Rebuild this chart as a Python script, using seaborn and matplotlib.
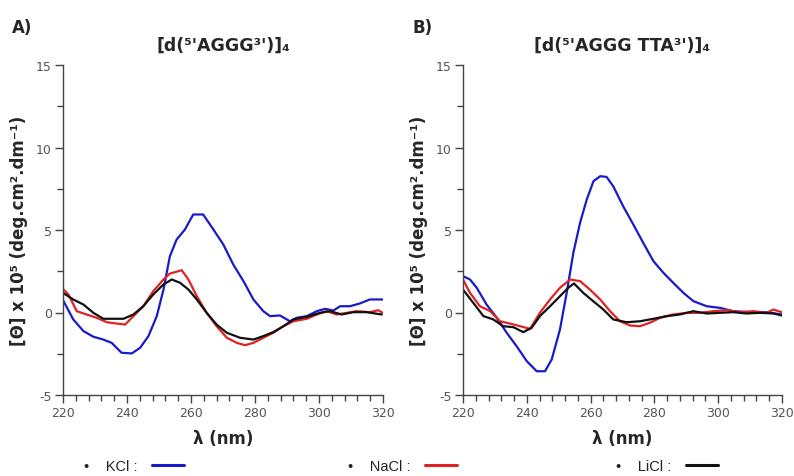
import matplotlib
matplotlib.use("Agg")
import matplotlib.pyplot as plt
from matplotlib.lines import Line2D
from matplotlib.ticker import MultipleLocator
import seaborn as sns
import pandas as pd

# ---------------- data ----------------
# Panel A: [d(5'AGGG3')]4
a_kcl_x = [220, 223.2, 226.4, 229.5, 232.6, 235.2, 238.3, 241.5, 244.1, 246.7, 249.3, 251.4, 253.4,
           255.5, 258.1, 260.7, 263.8, 267, 270.1, 273.2, 276.4, 279.5, 282.6, 284.7, 287.8, 290.9,
           293, 296.2, 299.3, 301.9, 304.5, 306.6, 309.7, 312.8, 315.9, 319.9]
a_kcl_y = [0.75, -0.42, -1.13, -1.47, -1.64, -1.84, -2.44, -2.48, -2.14, -1.43, -0.22, 1.39, 3.41,
           4.42, 5.03, 5.94, 5.94, 5.03, 4.12, 2.91, 1.90, 0.79, 0.08, -0.22, -0.18, -0.53,
           -0.32, -0.22, 0.08, 0.22, 0.12, 0.38, 0.38, 0.55, 0.79, 0.79]

a_nacl_x = [220, 221.7, 224.3, 227.4, 230.5, 233.7, 236.8, 239.4, 242, 245.1, 248.2, 251.4, 253.4,
            257.1, 259.2, 261.8, 264.9, 268, 271.2, 274.3, 276.9, 279.5, 282.6, 285.7, 288.9, 292,
            296.2, 299.3, 302.4, 305.5, 308.7, 311.8, 315.9, 318.5, 319.9]
a_nacl_y = [1.43, 1.09, 0.08, -0.12, -0.32, -0.59, -0.67, -0.73, -0.22, 0.38, 1.29, 2.0, 2.36,
            2.56, 2.0, 0.99, -0.02, -0.83, -1.53, -1.84, -1.98, -1.84, -1.53, -1.23, -0.83, -0.53,
            -0.38, -0.12, 0.08, -0.12, -0.02, 0.08, 0.02, 0.14, -0.02]

a_licl_x = [220, 223.2, 226.4, 229.5, 232.6, 235.7, 238.9, 242, 245.1, 248.2, 251.4, 254, 256.6,
            259.2, 261.8, 264.9, 268, 271.2, 275.3, 279.5, 282.6, 285.7, 288.9, 292, 296.2, 300.3,
            303.4, 307.1, 310.7, 314.9, 319.6]
a_licl_y = [1.19, 0.79, 0.48, -0.02, -0.38, -0.38, -0.38, -0.12, 0.38, 1.09, 1.70, 2.0, 1.80,
            1.39, 0.79, -0.02, -0.73, -1.23, -1.53, -1.64, -1.43, -1.19, -0.83, -0.42, -0.26, -0.02,
            0.08, -0.12, 0.02, 0.02, -0.12]

# Panel B: [d(5'AGGG TTA3')]4
b_kcl_x = [220, 222.2, 224.3, 227.4, 230.6, 233.7, 236.8, 240, 243.1, 245.7, 247.8, 250.4, 252.5,
           254.6, 256.7, 258.8, 260.9, 263, 265, 267.1, 270.2, 273.4, 276.5, 279.7, 282.8, 285.9,
           289.1, 292.2, 296.4, 300.6, 304.7, 310, 315.2, 319.9]
b_kcl_y = [2.2, 2.0, 1.5, 0.48, -0.32, -1.23, -2.04, -2.95, -3.56, -3.56, -2.85, -1.03, 1.19,
           3.62, 5.44, 6.85, 7.96, 8.26, 8.22, 7.65, 6.44, 5.33, 4.22, 3.11, 2.41, 1.80,
           1.19, 0.69, 0.38, 0.28, 0.08, 0.02, 0.02, -0.12]

b_nacl_x = [220, 222.2, 225.3, 228.5, 231.6, 234.7, 237.9, 241, 244.1, 247.3, 250.4, 253.6, 256.7,
            259.8, 263, 266.1, 269.2, 272.4, 275.5, 278.6, 281.8, 285.9, 290.1, 294.3, 298.5, 302.7,
            306.8, 311, 315.2, 317.3, 319.9]
b_nacl_y = [2.0, 1.19, 0.38, 0.08, -0.53, -0.67, -0.83, -0.99, -0.02, 0.79, 1.50, 2.0, 1.90,
            1.39, 0.79, 0.08, -0.53, -0.79, -0.83, -0.62, -0.32, -0.12, -0.02, -0.02, 0.08, 0.14,
            0.02, 0.08, -0.02, 0.18, 0.02]

b_licl_x = [220, 223.2, 226.4, 229.5, 232.6, 235.8, 238.9, 241.5, 244.1, 247.3, 250.4, 253, 254.8,
            257.7, 260.8, 264, 267.1, 271.3, 275.5, 279.7, 283.9, 288, 292.2, 296.4, 300.6, 304.7,
            308.9, 313.1, 317.3, 319.9]
b_licl_y = [1.39, 0.59, -0.22, -0.42, -0.83, -0.89, -1.19, -0.93, -0.22, 0.38, 0.99, 1.50, 1.76,
            1.19, 0.69, 0.18, -0.42, -0.59, -0.53, -0.38, -0.22, -0.12, 0.08, -0.06, -0.02, 0.02,
            -0.06, -0.02, -0.06, -0.18]

salts = ["KCl", "NaCl", "LiCl"]
panel_titles = ["[d(⁵'AGGG³')]₄", "[d(⁵'AGGG TTA³')]₄"]
panel_letters = ["A)", "B)"]
x_ticks = [220, 240, 260, 280, 300, 320]
y_ticks = [-5, 0, 5, 10, 15]

palette = {"KCl": "#1a1acc", "NaCl": "#e02222", "LiCl": "#111111"}


def build(series):
    frames = []
    for salt, (xs, ys) in zip(salts, series):
        frames.append(pd.DataFrame({"wl": xs, "val": ys, "salt": salt}))
    return pd.concat(frames, ignore_index=True)


df_a = build([(a_kcl_x, a_kcl_y), (a_nacl_x, a_nacl_y), (a_licl_x, a_licl_y)])
df_b = build([(b_kcl_x, b_kcl_y), (b_nacl_x, b_nacl_y), (b_licl_x, b_licl_y)])

# ---------------- figure ----------------
sns.set_theme(style="ticks")
plt.rcParams["font.family"] = ["DejaVu Sans"]
plt.rcParams["axes.unicode_minus"] = False

W, H = 794, 477
fig = plt.figure(figsize=(W / 100, H / 100), dpi=100)
fig.patch.set_facecolor("white")

ax_pos = [(63, 66, 383, 396), (463, 66, 782, 396)]
label_x = [12, 413]

for i, (df, (l, t, r, b)) in enumerate(zip([df_a, df_b], ax_pos)):
    ax = fig.add_axes([l / W, 1 - b / H, (r - l) / W, (b - t) / H])
    sns.lineplot(data=df, x="wl", y="val", hue="salt", palette=palette,
                 hue_order=salts, sort=False, estimator=None, linewidth=1.6,
                 legend=False, ax=ax)
    ax.set_xlim(220, 320)
    ax.set_ylim(-5, 15)
    ax.set_xticks(x_ticks)
    ax.set_yticks(y_ticks)
    ax.xaxis.set_minor_locator(MultipleLocator(4))
    ax.yaxis.set_minor_locator(MultipleLocator(2.5))
    ax.tick_params(which="major", direction="out", length=6, width=1, colors="#444444",
                   labelsize=9, labelcolor="#555555", pad=2)
    ax.tick_params(which="minor", direction="out", length=4, width=1, colors="#444444")
    sns.despine(ax=ax)
    for s in ["left", "bottom"]:
        ax.spines[s].set_color("#444444")
        ax.spines[s].set_linewidth(1)
    ax.set_xlabel("λ (nm)", fontsize=12, fontweight="bold", labelpad=7)
    ax.set_ylabel("[Θ] x 10⁵ (deg.cm².dm⁻¹)", fontsize=12, fontweight="bold", labelpad=6)
    ax.set_title(panel_titles[i], fontsize=12.5, fontweight="bold", pad=11)
    fig.text(label_x[i] / W, 1 - 28 / H, panel_letters[i], fontsize=12, fontweight="bold",
             va="center", ha="left")

# legend at bottom: three separate entries "•  name :  ——"
legend_x = [84, 348, 616]
for s, lx in zip(salts, legend_x):
    h = Line2D([], [], color=palette[s], linewidth=2.2)
    leg = fig.legend([h], [f"•    {s} :"], loc="center left",
                     bbox_to_anchor=(lx / W, 1 - 467 / H), frameon=False, markerfirst=False,
                     handlelength=2.2, handletextpad=1.0, fontsize=10.5,
                     borderaxespad=0, borderpad=0,
                     prop={"family": "Liberation Sans", "size": 10.5})
    for txt in leg.get_texts():
        txt.set_color("#222222")

fig.savefig("out.png", dpi=100, facecolor="white")
